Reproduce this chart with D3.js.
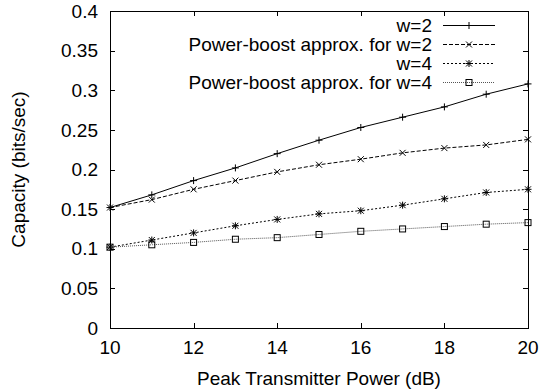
<!DOCTYPE html>
<html>
<head>
<meta charset="utf-8">
<script src="https://cdn.jsdelivr.net/npm/d3@7"></script>
<style>
  body { margin: 0; background: #fff; }
  svg text { font-family: "Liberation Sans", Arial, sans-serif; font-size: 19px; fill: #000; }
</style>
</head>
<body>
<div id="chart"></div>
<script>
// values
var power = [10, 11, 12, 13, 14, 15, 16, 17, 18, 19, 20];
var w2 = [0.152, 0.168, 0.186, 0.202, 0.220, 0.237, 0.253, 0.266, 0.279, 0.295, 0.308];
var approx2 = [0.152, 0.162, 0.175, 0.186, 0.197, 0.206, 0.213, 0.221, 0.227, 0.231, 0.238];
var w4 = [0.102, 0.111, 0.120, 0.129, 0.137, 0.144, 0.148, 0.155, 0.163, 0.171, 0.175];
var approx4 = [0.102, 0.105, 0.108, 0.112, 0.114, 0.118, 0.122, 0.125, 0.128, 0.131, 0.133];

var xTicks = [10, 12, 14, 16, 18, 20];
var yTicks = [0, 0.05, 0.1, 0.15, 0.2, 0.25, 0.3, 0.35, 0.4];
var seriesNames = ["w=2", "Power-boost approx. for w=2", "w=4", "Power-boost approx. for w=4"];

var width = 542, height = 392;
var margin = {top: 11, right: 14, bottom: 64, left: 110};

var svg = d3.select("#chart").append("svg")
  .attr("width", width)
  .attr("height", height);

var x = d3.scaleLinear().domain([10, 20]).range([margin.left, width - margin.right]);
var y = d3.scaleLinear().domain([0, 0.4]).range([height - margin.bottom, margin.top]);

// mirrored ticks, gnuplot style
var tl = 5;
var ticks = svg.append("g").attr("stroke", "#000").attr("stroke-width", 1);
xTicks.forEach(function(t) {
  var px = Math.round(x(t)) + 0.5;
  ticks.append("line").attr("x1", px).attr("x2", px).attr("y1", y(0)).attr("y2", y(0) - tl);
  ticks.append("line").attr("x1", px).attr("x2", px).attr("y1", y(0.4)).attr("y2", y(0.4) + tl);
});
yTicks.forEach(function(t) {
  var py = Math.round(y(t)) + 0.5;
  ticks.append("line").attr("x1", x(10)).attr("x2", x(10) + tl).attr("y1", py).attr("y2", py);
  ticks.append("line").attr("x1", x(20)).attr("x2", x(20) - tl).attr("y1", py).attr("y2", py);
});

// tick labels
svg.selectAll(".xl").data(xTicks).enter().append("text")
  .attr("x", function(d) { return x(d); })
  .attr("y", y(0) + 26)
  .attr("text-anchor", "middle")
  .text(function(d) { return d; });

svg.selectAll(".yl").data(yTicks).enter().append("text")
  .attr("x", x(10) - 12)
  .attr("y", function(d) { return y(d); })
  .attr("dy", "0.35em")
  .attr("text-anchor", "end")
  .text(function(d) { return d; });

// axis titles
svg.append("text")
  .attr("x", (x(10) + x(20)) / 2)
  .attr("y", 385)
  .attr("text-anchor", "middle")
  .text("Peak Transmitter Power (dB)");

svg.append("text")
  .attr("transform", "translate(25," + ((y(0) + y(0.4)) / 2) + ") rotate(-90)")
  .attr("text-anchor", "middle")
  .text("Capacity (bits/sec)");

// markers
function plus(g, cx, cy) {
  g.append("path").attr("d", "M" + (cx - 3.5) + "," + cy + "H" + (cx + 3.5) + "M" + cx + "," + (cy - 3.5) + "V" + (cy + 3.5));
}
function cross(g, cx, cy) {
  g.append("path").attr("d", "M" + (cx - 3) + "," + (cy - 3) + "L" + (cx + 3) + "," + (cy + 3) + "M" + (cx - 3) + "," + (cy + 3) + "L" + (cx + 3) + "," + (cy - 3));
}
function star(g, cx, cy) { plus(g, cx, cy); cross(g, cx, cy); }
function square(g, cx, cy) {
  g.append("rect").attr("x", cx - 3).attr("y", cy - 3).attr("width", 6).attr("height", 6).attr("fill", "none");
}

var series = [
  {name: seriesNames[0], values: w2, dash: null, color: "#000", mark: plus},
  {name: seriesNames[1], values: approx2, dash: "4,2", color: "#000", mark: cross},
  {name: seriesNames[2], values: w4, dash: "2,2", color: "#000", mark: star},
  {name: seriesNames[3], values: approx4, dash: "1,1", color: "#555", mark: square}
];

var line = d3.line()
  .x(function(d, i) { return x(power[i]); })
  .y(function(d) { return y(d); });

series.forEach(function(s, k) {
  svg.append("path")
    .attr("d", line(s.values))
    .attr("fill", "none")
    .attr("stroke", s.color)
    .attr("stroke-width", 1)
    .attr("stroke-dasharray", s.dash);
  var mg = svg.append("g").attr("stroke", "#000").attr("stroke-width", 1).attr("fill", "none");
  s.values.forEach(function(v, i) { s.mark(mg, x(power[i]), y(v)); });

  // legend row
  var ly = 25 + k * 19;
  svg.append("text")
    .attr("x", 432)
    .attr("y", ly)
    .attr("dy", "0.35em")
    .attr("text-anchor", "end")
    .text(s.name);
  svg.append("line")
    .attr("x1", 443).attr("x2", 495)
    .attr("y1", ly + 0.5).attr("y2", ly + 0.5)
    .attr("stroke", s.color)
    .attr("stroke-width", 1)
    .attr("stroke-dasharray", s.dash);
  var lg = svg.append("g").attr("stroke", "#000").attr("stroke-width", 1).attr("fill", "none");
  s.mark(lg, 469, ly + 0.5);
});

// frame
svg.append("rect")
  .attr("x", x(10) + 0.5).attr("y", y(0.4) + 0.5)
  .attr("width", x(20) - x(10)).attr("height", y(0) - y(0.4))
  .attr("fill", "none")
  .attr("stroke", "#000")
  .attr("stroke-width", 1);
</script>
</body>
</html>
